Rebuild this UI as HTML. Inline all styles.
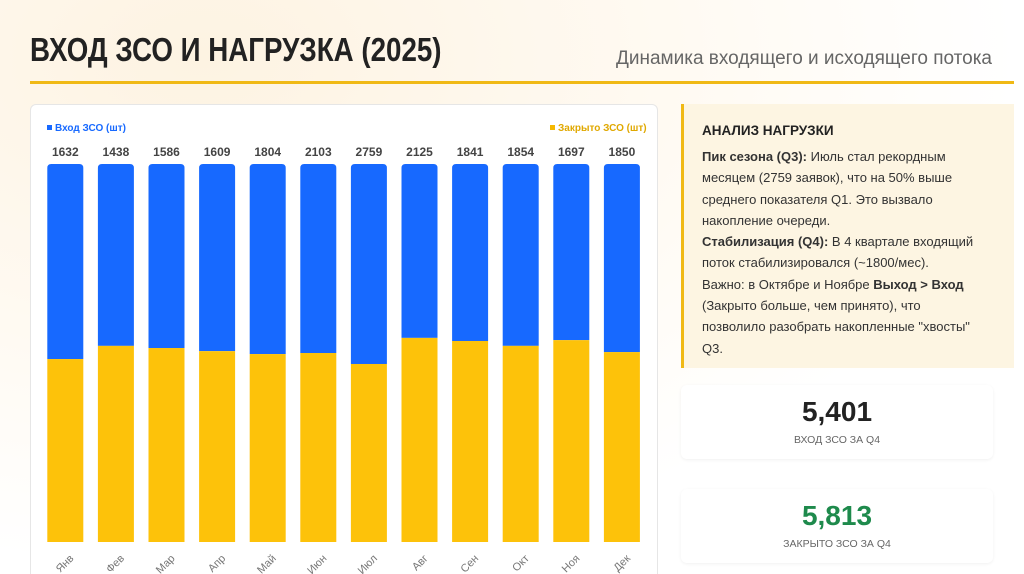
<!DOCTYPE html>
<html><head><meta charset="utf-8">
<style>
*{margin:0;padding:0;box-sizing:border-box}
html,body{width:1024px;height:574px;overflow:hidden}
body{font-family:"Liberation Sans","Noto Sans CJK SC",sans-serif;background:radial-gradient(ellipse at 20% 10%,#fdf3e2 0%,#fffaf2 40%,#ffffff 70%);position:relative}
#title{position:absolute;left:30px;top:31px;font-size:33px;font-weight:bold;color:#222;transform:scaleX(0.84);transform-origin:left top;white-space:nowrap}
#sub{position:absolute;right:32px;top:48px;font-size:19px;color:#666;white-space:nowrap}
#rule{position:absolute;left:30px;top:81px;width:984px;height:3px;background:#f0b915}
#chart{position:absolute;left:30px;top:104px;width:628px;height:480px;background:#fff;border:1px solid #e6e6e6;border-radius:6px}
#panel{position:absolute;left:681px;top:104px;width:333px;height:264px;background:#fdf5e2;border-left:3px solid #f0b915;padding:19px 30px 0 18px}
#panel h3{font-size:13.5px;font-weight:bold;color:#222;margin-bottom:8px}
#panel p{font-size:13px;line-height:21.3px;color:#333}
.card{position:absolute;left:681px;width:312px;height:74px;background:#fff;border-radius:6px;box-shadow:0 1px 3px rgba(0,0,0,.06);text-align:center}
.card .v{font-size:28px;font-weight:bold;margin-top:11px;line-height:32px}
.card .l{font-size:10.5px;color:#666;margin-top:6px}
</style></head><body>
<div id="title">ВХОД ЗСО И НАГРУЗКА (2025)</div>
<div id="sub">Динамика входящего и исходящего потока</div>
<div id="rule"></div>
<div id="chart">
<svg id="svg" width="628" height="480"></svg>
</div>
<div id="panel">
<h3>АНАЛИЗ НАГРУЗКИ</h3>
<p><b>Пик сезона (Q3):</b> Июль стал рекордным месяцем (2759 заявок), что на 50% выше среднего показателя Q1. Это вызвало накопление очереди.<br><b>Стабилизация (Q4):</b> В 4 квартале входящий поток стабилизировался (~1800/мес).<br>Важно: в Октябре и Ноябре <b>Выход &gt; Вход</b> (Закрыто больше, чем принято), что позволило разобрать накопленные "хвосты" Q3.</p>
</div>
<div class="card" style="top:385px"><div class="v" style="color:#222">5,401</div><div class="l">ВХОД ЗСО ЗА Q4</div></div>
<div class="card" style="top:489px"><div class="v" style="color:#1e8a4c">5,813</div><div class="l">ЗАКРЫТО ЗСО ЗА Q4</div></div>
<script>
const months=["Янв","Фев","Мар","Апр","Май","Июн","Июл","Авг","Сен","Окт","Ноя","Дек"];
const inbound=[1632,1438,1586,1609,1804,2103,2759,2125,1841,1854,1697,1850];
const closed=[1531,1551,1672,1641,1784,2103,2456,2494,2091,2000,1945,1868];
const NS="http://www.w3.org/2000/svg";
const svg=document.getElementById('svg');
const X0=9,STEP=50.6,BW=36,YTOP=59,YBOT=437;
function xc(i){return X0+STEP*i+STEP/2;}
function yFrac(f){return YBOT-(YBOT-YTOP)*f;}
function mk(t,a){const e=document.createElementNS(NS,t);for(const k in a)e.setAttribute(k,a[k]);svg.appendChild(e);return e;}
let e=mk('rect',{x:16,y:20,width:5,height:5,fill:'#1769ff'});


e=mk('text',{x:24,y:26,'font-size':10,fill:'#1769ff','font-weight':'bold'});e.textContent='Вход ЗСО (шт)';


e=mk('rect',{x:519,y:20,width:5,height:5,fill:'#f5b800'});


e=mk('text',{x:527,y:26,'font-size':10,fill:'#e0a800','font-weight':'bold'});e.textContent='Закрыто ЗСО (шт)';


for(let i=0;i<months.length;i++){
  const tot=inbound[i]+closed[i];const f=closed[i]/tot;const ys=yFrac(f);const x=xc(i)-BW/2;
  e=mk('path',{d:`M${x},${ys}V${YTOP+4}Q${x},${YTOP} ${x+4},${YTOP}H${x+BW-4}Q${x+BW},${YTOP} ${x+BW},${YTOP+4}V${ys}Z`,fill:'#1769ff'});
  
  
  e=mk('rect',{x:x,y:ys,width:BW,height:YBOT-ys,fill:'#fdc20a'});
  
  
  e=mk('text',{x:xc(i),y:51,'text-anchor':'middle','font-size':12,'font-weight':'bold',fill:'#444'});e.textContent=inbound[i];
  
  
  e=mk('text',{x:xc(i)+9,y:454,'text-anchor':'end','font-size':11,fill:'#777',transform:`rotate(-45 ${xc(i)+9} 454)`});e.textContent=months[i];
  
  
}
</script>
</body></html>
